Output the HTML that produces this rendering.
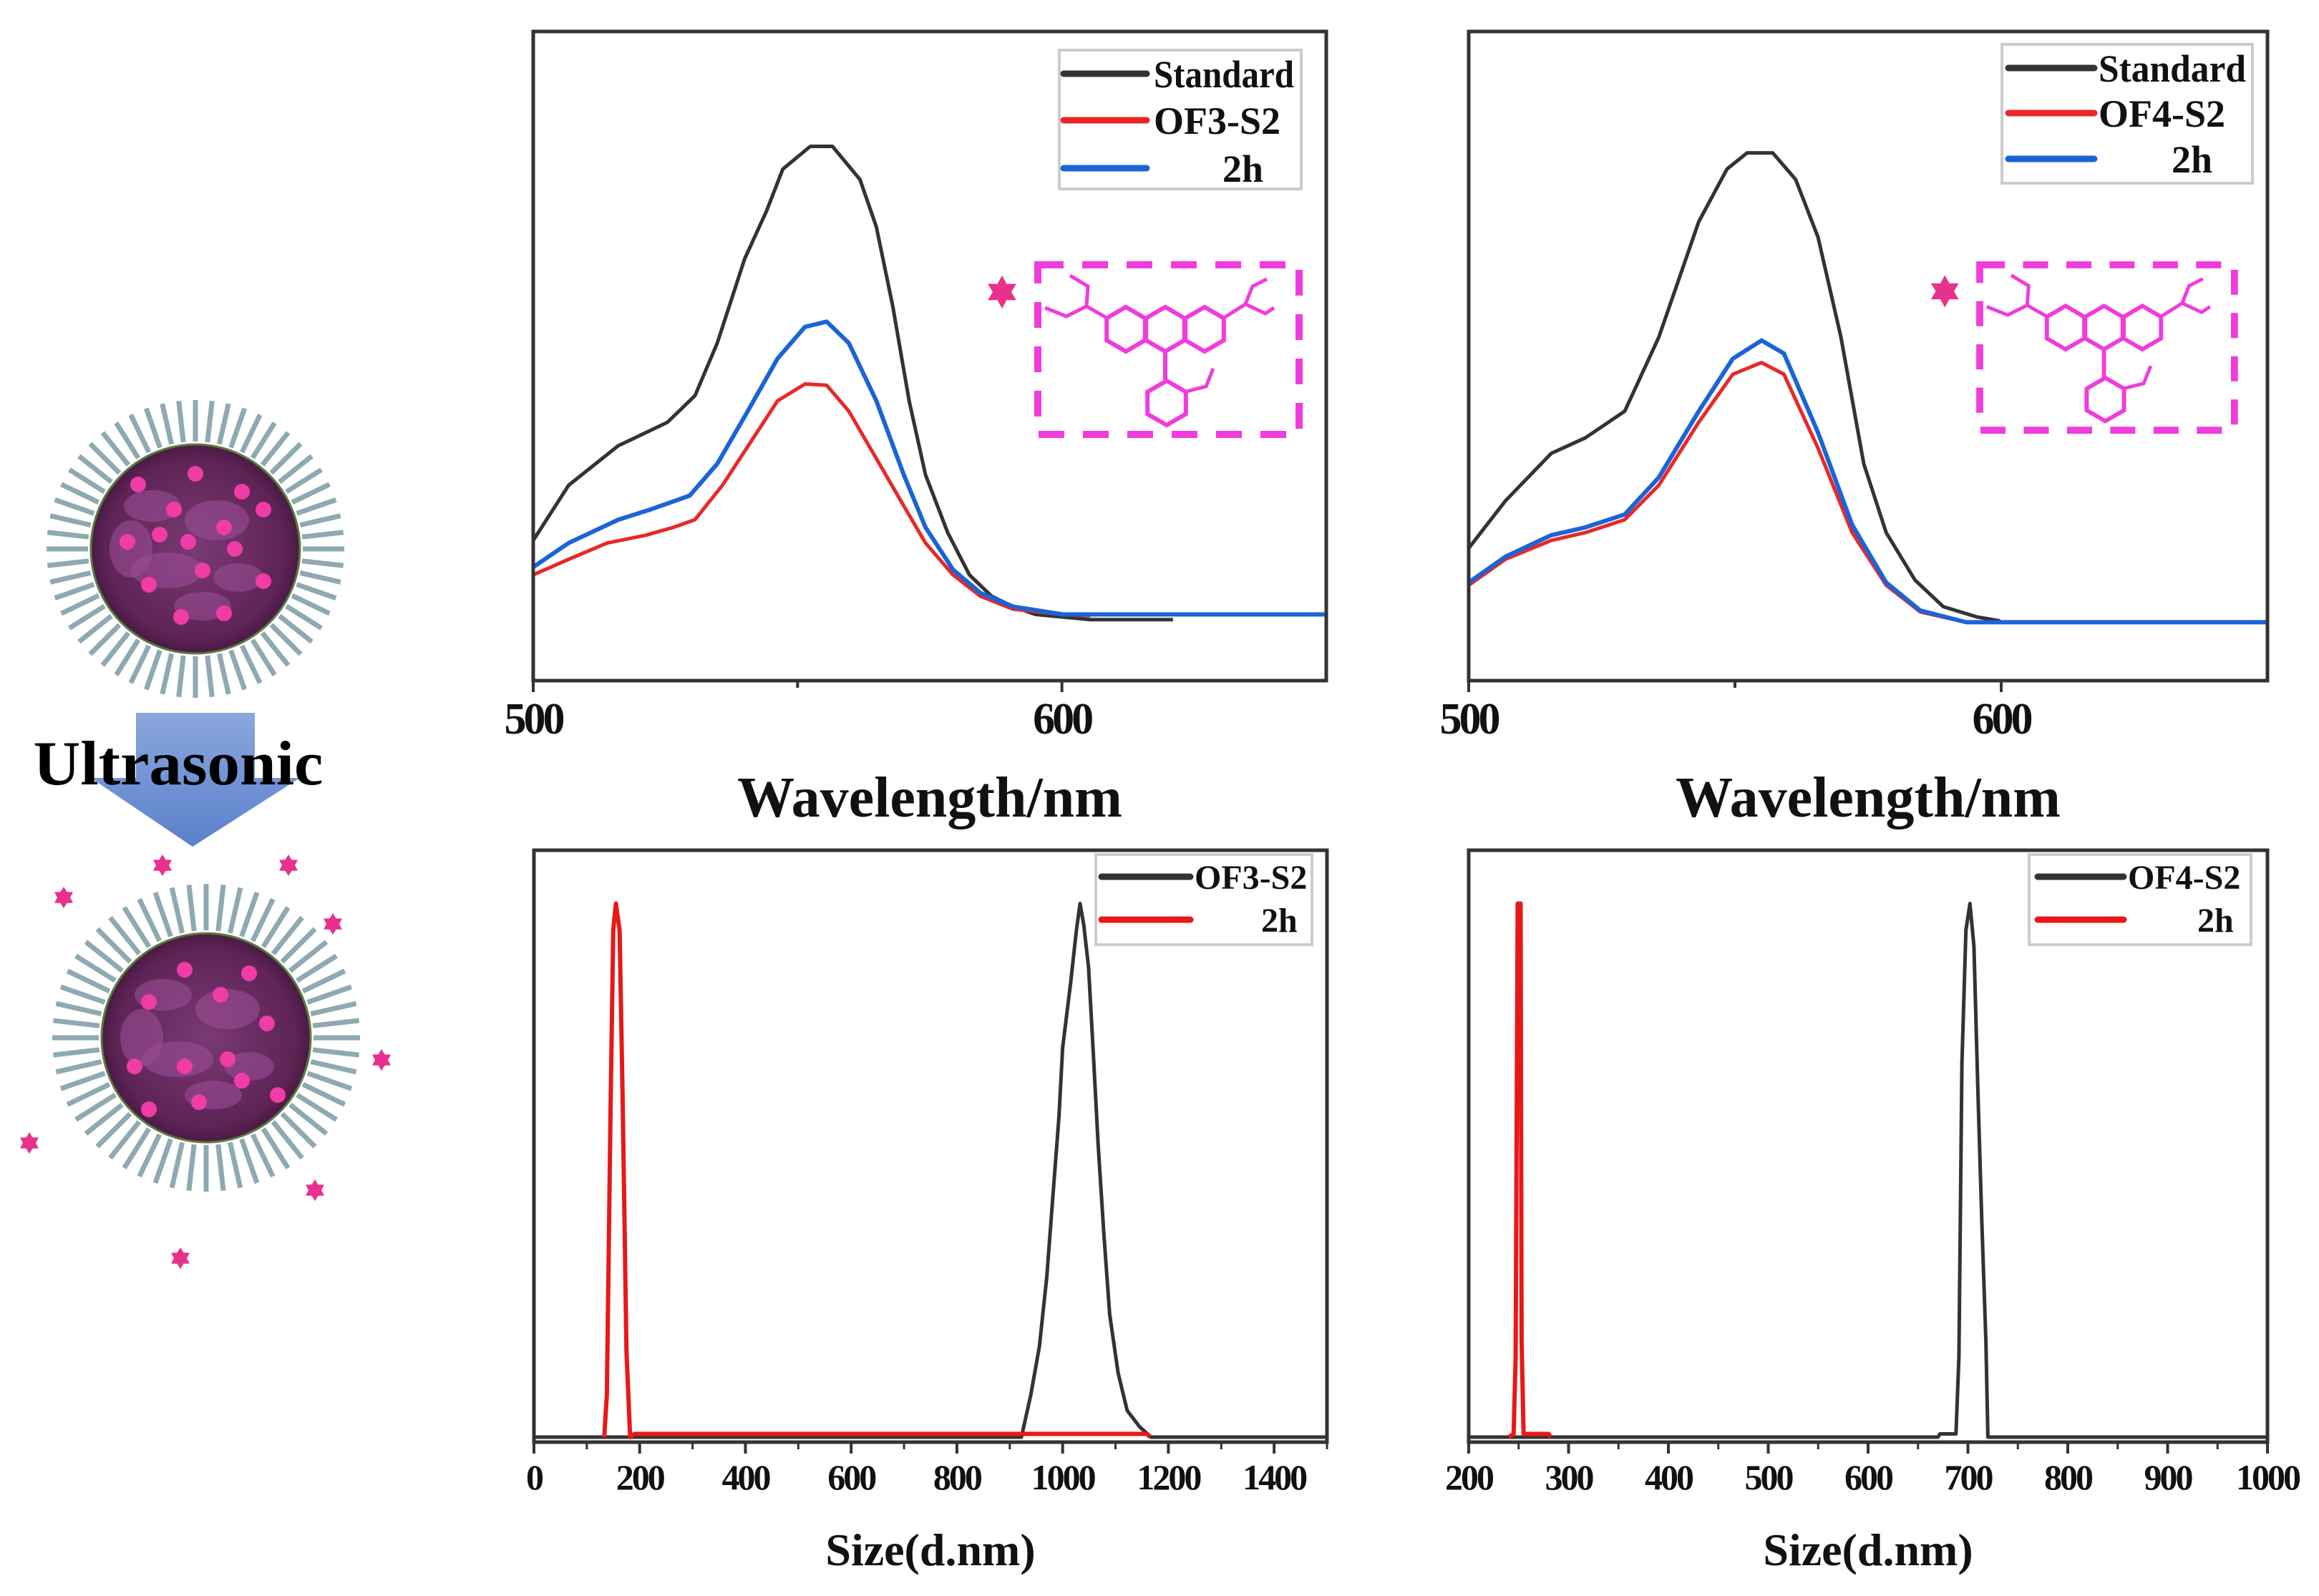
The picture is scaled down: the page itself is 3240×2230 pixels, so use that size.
<!DOCTYPE html>
<html><head><meta charset="utf-8"><style>
html,body{margin:0;padding:0;background:#fff;}
svg{display:block;font-family:"Liberation Serif",serif;}
</style></head><body>
<svg id="fig" width="3240" height="2230" viewBox="0 0 3240 2230" xmlns="http://www.w3.org/2000/svg">
<defs>
<linearGradient id="arrowGrad" x1="0" y1="0" x2="0" y2="1">
<stop offset="0" stop-color="#8aa6dc"/><stop offset="1" stop-color="#5c80cc"/>
</linearGradient>
<radialGradient id="coreGrad" cx="0.5" cy="0.5" r="0.5">
<stop offset="0" stop-color="#7a3a74"/><stop offset="0.85" stop-color="#5e2456"/><stop offset="1" stop-color="#4a1a44"/>
</radialGradient>
</defs>
<g id="illustration"></g>
<g id="charts"></g>
</svg>
<script>
// ---------- data ----------
const uv1Wl_std = [500,506.7,516.1,521.3,525.4,530.6,534.8,540,544.1,547.2,552.4,556.6,561.8,564.9,568,571.1,574.2,578.4,582.5,586.7,590.8,595,605.4,621];
const uv1Val_std = [.216,.301,.362,.382,.398,.439,.520,.650,.723,.788,.823,.823,.772,.699,.577,.431,.317,.228,.163,.130,.114,.102,.094,.094];
const uv1Wl_of = [500,506.7,514,521.3,526.5,530.6,535.8,541,546.2,551.4,555.5,559.7,564.9,570.1,574.2,579.4,584.6,590.8,600.2,605.4];
const uv1Val_of = [.163,.187,.212,.224,.236,.248,.301,.366,.431,.457,.455,.415,.342,.269,.212,.163,.130,.110,.102,.100];
const uv1Wl_2h = [500,506.7,516.1,522.3,529.6,534.8,540,546.2,551.4,555.5,559.7,564.9,570.1,574.2,579.4,584.6,590.8,600.2,650];
const uv1Val_2h = [.175,.212,.248,.264,.285,.334,.407,.496,.545,.553,.520,.431,.317,.236,.171,.135,.114,.102,.102];

const uv2Wl_std = [500,506.9,515.5,521.9,529.3,535.7,543.2,548.5,552.3,557.1,561.4,565.6,569.9,574.2,578.4,583.8,589.1,595.5,599.8];
const uv2Val_std = [.204,.277,.350,.374,.415,.529,.707,.788,.813,.813,.772,.683,.529,.334,.228,.155,.114,.098,.092];
const uv2Wl_of = [500,506.9,515.5,521.9,529.3,535.7,543.2,549.6,555,559.2,565.6,572,578.4,584.8,593.4,619];
const uv2Val_of = [.147,.187,.216,.228,.248,.301,.398,.472,.490,.472,.358,.228,.147,.106,.090,.090];
const uv2Wl_2h = [500,506.9,515.5,521.9,529.3,535.7,543.2,549.6,555,559.2,565.6,572,578.4,584.8,593.4,650];
const uv2Val_2h = [.151,.191,.224,.236,.256,.313,.415,.496,.524,.504,.382,.240,.151,.108,.090,.090];

const uvTicks = [500,600];
const uvMinor = [550];

const dls1Size_of = [0,900,922,940,956,970,983,993,1000,1015,1026,1033,1040,1049,1058,1067,1078,1089,1105,1122,1145,1167,1500];
const dls1Val_of = [0,0,0,8,17,30,47,60,73,85,95,100,96,88,72,55,38,23,12,5,2,0,0];
const dls1Size_2h = [133,138,145,150,155,162,168,175,182,190,1160,1165];
const dls1Val_2h = [0,8,62,95,100,95,62,16,0,0.6,0.6,0];
const dls1Ticks = [0,200,400,600,800,1000,1200,1400];
const dls1Labels = ["0","200","400","600","800","1000","1200","1400"];

const dls2Size_of = [200,670,672,688,691,694,698,702,706,710,714,718,720,722,1000];
const dls2Val_of = [0,0,0.6,0.6,15,70,95,100,92,65,40,18,0,0,0];
const dls2Size_2h = [240,245,247,249,252,253,255,280,282];
const dls2Val_2h = [0,0.6,15,100,100,18,0.6,0.6,0];
const dls2Ticks = [200,300,400,500,600,700,800,900,1000];
const dls2Labels = ["200","300","400","500","600","700","800","900","1000"];

// ---------- helpers ----------
const NS="http://www.w3.org/2000/svg";
function mk(tag,attrs,parent){const e=document.createElementNS(NS,tag);for(const k in attrs)e.setAttribute(k,attrs[k]);(parent||document.getElementById('charts')).appendChild(e);return e;}
function lin(d0,d1,r0,r1){return v=>r0+(v-d0)/(d1-d0)*(r1-r0);}
function pts(xs,ys,sx,sy){return xs.map((x,i)=>sx(x).toFixed(1)+","+sy(ys[i]).toFixed(1)).join(" ");}
function starPts(cx,cy,R,r){let p=[];for(let i=0;i<12;i++){const a=-Math.PI/2+i*Math.PI/6;const rr=i%2?r:R;p.push((cx+rr*Math.cos(a)).toFixed(1)+","+(cy+rr*Math.sin(a)).toFixed(1));}return p.join(" ");}

function frame(g,L,T,R,B,name){
  const r=mk('rect',{x:L,y:T,width:R-L,height:B-T,fill:'none',stroke:'#333',"stroke-width":5},g);
  
  
}
function series(g,xs,ys,sx,sy,color,w,name){
  const p=mk('polyline',{points:pts(xs,ys,sx,sy),fill:'none',stroke:color,"stroke-width":w,"stroke-linejoin":"round"},g);
  
  
}
function text(g,x,y,s,size,name,anchor,extra){
  const t=mk('text',Object.assign({x:x,y:y,"font-size":size,"font-weight":"bold","text-anchor":anchor||"middle",fill:"#111"},extra||{}),g);
  t.textContent=s;
  
  
  return t;
}
function legend(g,bx,by,bw,bh,entries,lx0,lx1,tx,rows,fs,name){
  const lg=mk('g',{},g);
  
  
  mk('rect',{x:bx,y:by,width:bw,height:bh,fill:'#fff',stroke:'#ccc',"stroke-width":4},lg);
  entries.forEach((e,i)=>{
    const l=mk('line',{x1:lx0,x2:lx1,y1:rows[i],y2:rows[i],stroke:e.c,"stroke-width":9,"stroke-linecap":"round"},lg);
    
    
    text(lg,e.x||tx,rows[i]+fs*0.35,e.t,fs,'legend-entry-'+e.key,'start',e.tl?{textLength:e.tl,lengthAdjust:"spacingAndGlyphs"}:{});
  });
}
function molecule(g,ox,oy,s,name){
  const m=mk('g',{transform:`translate(${ox},${oy}) scale(${s})`},g);
  
  
  const c='#f03cdc';
  mk('rect',{x:0,y:0,width:365,height:237,fill:'none',stroke:c,"stroke-width":10,"stroke-dasharray":"36 26"},m);
  function hex(cx,cy,r){let p=[];for(let i=0;i<6;i++){const a=Math.PI/6+i*Math.PI/3;p.push((cx+r*Math.cos(a)).toFixed(1)+","+(cy+r*Math.sin(a)).toFixed(1));}mk('polygon',{points:p.join(" "),fill:'none',stroke:c,"stroke-width":6},m);}
  hex(123,90,31);hex(178,90,31);hex(233,90,31);hex(180,193,31);
  mk('polyline',{points:"178,121 178,162",fill:'none',stroke:c,"stroke-width":6},m);
  mk('polyline',{points:"96,74 68,58 40,72 10,60",fill:'none',stroke:c,"stroke-width":5},m);
  mk('polyline',{points:"68,58 70,30 45,15",fill:'none',stroke:c,"stroke-width":5},m);
  mk('polyline',{points:"260,74 290,55 318,68 330,60",fill:'none',stroke:c,"stroke-width":5},m);
  mk('polyline',{points:"290,55 300,30 320,20",fill:'none',stroke:c,"stroke-width":5},m);
  mk('polyline',{points:"207,177 235,170 245,145 M235,170 245,195",fill:'none',stroke:c,"stroke-width":5},m);
  const star=mk('polygon',{points:starPts(-50,38,23,13),fill:'#e8318c'},m);
  
  
}

// ---------- UV charts ----------
function uvChart(L,T,R,B,std,of,h2,label,legendPos,molPos,idx){
  const g=mk('g',{});
  
  
  const sx=lin(500,650,L,R), sy=lin(0,1,B,T);
  series(g,std[0],std[1],sx,sy,'#333',5,'series-standard');
  series(g,of[0],of[1],sx,sy,'#e82828',5,'series-'+label.toLowerCase());
  series(g,h2[0],h2[1],sx,sy,'#1a64d8',6,'series-2h');
  frame(g,L,T,R,B,'plot-frame');
  uvTicks.forEach(t=>{mk('line',{x1:sx(t),x2:sx(t),y1:B,y2:B+16,stroke:'#333',"stroke-width":4},g);
    text(g,sx(t),B+74,String(t),62,'x-tick-label-'+t,'middle',{"letter-spacing":"-4"});});
  uvMinor.forEach(t=>mk('line',{x1:sx(t),x2:sx(t),y1:B,y2:B+10,stroke:'#333',"stroke-width":4},g));
  text(g,(L+R)/2,B+190,'Wavelength/nm',80,'x-axis-title');
  const lp=legendPos;
  legend(g,lp.bx,lp.by,lp.bw,lp.bh,[{c:'#333',t:'Standard',key:'standard',tl:lp.tl},{c:'#e82828',t:label,key:'sample'},{c:'#1a64d8',t:'2h',key:'2h',x:lp.tx2}],lp.lx0,lp.lx1,lp.tx,lp.rows,54,'legend');
  molecule(g,molPos[0],molPos[1],molPos[2],'rhodamine-structure');
}
uvChart(745,44,1853,951,[uv1Wl_std,uv1Val_std],[uv1Wl_of,uv1Val_of],[uv1Wl_2h,uv1Val_2h],'OF3-S2',
  {bx:1480,by:70,bw:338,bh:194,lx0:1486,lx1:1602,tx:1612,tx2:1708,rows:[103,168,235],tl:196},[1450,370,1],1);
uvChart(2052,44,3168,951,[uv2Wl_std,uv2Val_std],[uv2Wl_of,uv2Val_of],[uv2Wl_2h,uv2Val_2h],'OF4-S2',
  {bx:2797,by:62,bw:350,bh:194,lx0:2806,lx1:2926,tx:2932,tx2:3034,rows:[95,158,222],tl:206},[2766,370,0.975],2);

// ---------- DLS charts ----------
function dlsChart(L,T,R,B,d0,d1,ofD,h2D,ticks,labels,minorStep,label,lp,idx){
  const g=mk('g',{});
  
  
  const sx=lin(d0,d1,L,R), sy=lin(0,110,B-7,T);
  series(g,ofD[0],ofD[1],sx,sy,'#333',5,'series-'+label.toLowerCase());
  series(g,h2D[0],h2D[1],sx,sy,'#e81818',6,'series-2h');
  frame(g,L,T,R,B,'plot-frame');
  for(let v=d0;v<=d1;v+=minorStep){mk('line',{x1:sx(v),x2:sx(v),y1:B,y2:B+10,stroke:'#333',"stroke-width":3},g);}
  ticks.forEach((t,i)=>{mk('line',{x1:sx(t),x2:sx(t),y1:B,y2:B+16,stroke:'#333',"stroke-width":4},g);
    text(g,sx(t),B+66,labels[i],50,'x-tick-label-'+t,'middle',{"letter-spacing":"-3"});});
  text(g,(L+R)/2,B+172,'Size(d.nm)',64,'x-axis-title');
  legend(g,lp.bx,lp.by,lp.bw,lp.bh,[{c:'#333',t:label,key:'sample'},{c:'#e81818',t:'2h',key:'2h',x:lp.tx2}],lp.lx0,lp.lx1,lp.tx,lp.rows,48,'legend');
}
dlsChart(746,1188,1854,2015,0,1500,[dls1Size_of,dls1Val_of],[dls1Size_2h,dls1Val_2h],dls1Ticks,dls1Labels,100,'OF3-S2',
  {bx:1531,by:1194,bw:302,bh:126,lx0:1539,lx1:1663,tx:1669,tx2:1762,rows:[1225,1285]},1);
dlsChart(2052,1188,3168,2015,200,1000,[dls2Size_of,dls2Val_of],[dls2Size_2h,dls2Val_2h],dls2Ticks,dls2Labels,50,'OF4-S2',
  {bx:2835,by:1194,bw:310,bh:126,lx0:2847,lx1:2967,tx:2973,tx2:3070,rows:[1225,1285]},2);

// ---------- illustration ----------
(function(){
  const ill=document.getElementById('illustration');
  function particle(cx,cy,r,R,name,dots){
    const p=mk('g',{},ill);
    
    
    const n=56;
    for(let i=0;i<n;i++){const a=i/n*2*Math.PI;
      mk('line',{x1:cx+(r+4)*Math.cos(a),y1:cy+(r+4)*Math.sin(a),x2:cx+R*Math.cos(a),y2:cy+R*Math.sin(a),stroke:'#8fa9b2',"stroke-width":7},p);}
    mk('circle',{cx:cx,cy:cy,r:r,fill:'url(#coreGrad)',stroke:'#5a7a40',"stroke-width":3},p);
    const patches=[[-60,-60,40,22],[30,-40,45,28],[-40,30,50,25],[60,40,35,20],[-90,0,30,40],[10,80,40,20]];
    patches.forEach(q=>mk('ellipse',{cx:cx+q[0],cy:cy+q[1],rx:q[2],ry:q[3],fill:'#9a4c94',opacity:0.6},p));
    dots.forEach(d=>mk('circle',{cx:cx+d[0],cy:cy+d[1],r:11,fill:'#f03ca6'},p));
  }
  particle(273,767,146,208,'loaded-particle',[[-80,-90],[0,-105],[65,-80],[-30,-55],[40,-30],[95,-55],[-95,-10],[-10,-10],[55,0],[-65,50],[10,30],[95,45],[-20,95],[40,90],[-50,-20]]);
  const ar=mk('g',{},ill);
  
  
  mk('polygon',{points:"190,996 356,996 356,1087 419,1087 269,1183 127,1087 190,1087",fill:'url(#arrowGrad)'},ar);
  const t=mk('text',{x:249,y:1096,"font-size":88,"font-weight":"bold","text-anchor":"middle",fill:"#000",textLength:405,lengthAdjust:"spacingAndGlyphs"},ill);
  t.textContent='Ultrasonic';
  
  
  particle(288,1450,146,215,'released-particle',[[-30,-95],[60,-90],[-80,-50],[20,-60],[85,-20],[-100,40],[-30,40],[30,30],[100,80],[-80,100],[-10,90],[50,60]]);
  [[227,1209],[403,1209],[89,1254],[465,1291],[533,1481],[41,1597],[440,1663],[252,1758]].forEach((s,i)=>{
    const st=mk('polygon',{points:starPts(s[0],s[1],15,9),fill:'#e8318c'},ill);
    
    
  });
})();
</script>
</body></html>
